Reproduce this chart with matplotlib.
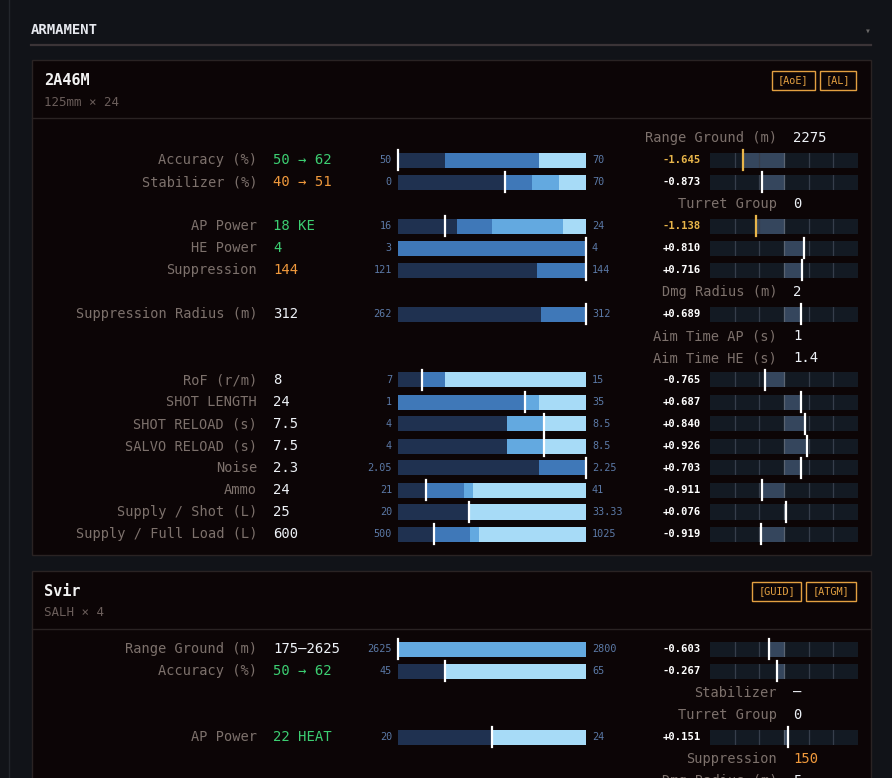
import matplotlib.pyplot as plt
from matplotlib.patches import Rectangle

plt.rcParams['font.family'] = ['DejaVu Sans Mono', 'DejaVu Sans']

W, H = 892, 778

# ---- gun 1: 2A46M ----
gun1_name = "2A46M"
gun1_caption = "125mm × 24"
gun1_tags = ["[AoE]", "[AL]"]

gun1_labels = ["Accuracy (%)", "Stabilizer (%)", "AP Power", "HE Power", "Suppression",
               "Suppression Radius (m)", "RoF (r/m)", "SHOT LENGTH", "SHOT RELOAD (s)",
               "SALVO RELOAD (s)", "Noise", "Ammo", "Supply / Shot (L)", "Supply / Full Load (L)"]
gun1_text = ["50 → 62", "40 → 51", "18 KE", "4", "144", "312", "8", "24", "7.5", "7.5",
             "2.3", "24", "25", "600"]
gun1_tone = ["good", "warn", "good", "good", "warn", "plain", "plain", "plain", "plain",
             "plain", "plain", "plain", "plain", "plain"]
gun1_slot = [1, 2, 4, 5, 6, 8, 11, 12, 13, 14, 15, 16, 17, 18]
gun1_lo = [50, 0, 16, 3, 121, 262, 7, 1, 4, 4, 2.05, 21, 20, 500]
gun1_hi = [70, 70, 24, 4, 144, 312, 15, 35, 8.5, 8.5, 2.25, 41, 33.33, 1025]
gun1_stops = [[55, 65, 70], [40, 50, 60, 70], [18.5, 20, 23, 24], [4], [138, 144], [300, 312],
              [8, 9, 15], [24, 26.5, 35], [6.6, 7.5, 8.5], [6.6, 7.5, 8.5], [2.2, 2.25],
              [24, 28, 29, 41], [25, 33.33], [600, 700, 725, 1025]]
gun1_tiers = [[0, 1, 3], [0, 1, 2, 3], [0, 1, 2, 3], [1], [0, 1], [0, 1],
              [0, 1, 3], [1, 2, 3], [0, 2, 3], [0, 2, 3], [0, 1],
              [0, 1, 2, 3], [0, 3], [0, 1, 2, 3]]
gun1_mark = [50, 40, 18, 4, 144, 312, 8, 24, 7.5, 7.5, 2.25, 24, 25, 600]

gun1_info_slot = [0, 3, 7, 9, 10]
gun1_info_labels = ["Range Ground (m)", "Turret Group", "Dmg Radius (m)", "Aim Time AP (s)", "Aim Time HE (s)"]
gun1_info_text = ["2275", "0", "2", "1", "1.4"]
gun1_info_tone = ["plain", "plain", "plain", "plain", "plain"]
gun1_z_slot = [1, 2, 4, 5, 6, 8, 11, 12, 13, 14, 15, 16, 17, 18]
gun1_z = [-1.645, -0.873, -1.138, 0.810, 0.716, 0.689, -0.765, 0.687, 0.840, 0.926,
          0.703, -0.911, 0.076, -0.919]

# ---- gun 2: Svir ----
gun2_name = "Svir"
gun2_caption = "SALH × 4"
gun2_tags = ["[GUID]", "[ATGM]"]

gun2_labels = ["Range Ground (m)", "Accuracy (%)", "AP Power"]
gun2_text = ["175–2625", "50 → 62", "22 HEAT"]
gun2_tone = ["plain", "good", "good"]
gun2_slot = [0, 1, 4]
gun2_lo = [2625, 45, 20]
gun2_hi = [2800, 65, 24]
gun2_stops = [[2800], [50, 65], [22, 24]]
gun2_tiers = [[2], [0, 3], [0, 3]]
gun2_mark = [2625, 50, 22]

gun2_info_slot = [2, 3, 5, 6]
gun2_info_labels = ["Stabilizer", "Turret Group", "Suppression", "Dmg Radius (m)"]
gun2_info_text = ["—", "0", "150", "5"]
gun2_info_tone = ["plain", "plain", "warn", "plain"]
gun2_z_slot = [0, 1, 4]
gun2_z = [-0.603, -0.267, 0.151]

# colours
PAGE = "#111318"
CARD = "#0c0506"
EDGE = "#2a2323"
LABEL = "#7d716c"
TONES = {"plain": "#eef2f7", "good": "#3ccf72", "warn": "#f0993c"}
ALERT = "#e8b54a"
TAG = "#e3a041"
TIER = ["#1f3150", "#3f78b8", "#63a9e0", "#a7dbf7"]
SCALE = "#5b79a6"
ZBG, ZDIV, ZMID, ZFILL = "#131a23", "#363e4b", "#5a6472", "#35465d"

fig = plt.figure(figsize=(W / 100, H / 100), dpi=100)
fig.patch.set_facecolor(PAGE)
ax = fig.add_axes([0, 0, 1, 1])
ax.set_xlim(0, W)
ax.set_ylim(H, 0)
ax.axis('off')

ax.plot([8.5, 8.5], [0, H], color="#23262c", lw=1)
ax.text(31, 30, "ARMAMENT", fontsize=10, weight='bold', color="#e6e8ee", va='center')
ax.text(871, 31, "▾", fontsize=7, color="#6a6868", ha='right', va='center')
ax.plot([31, 871], [44.5, 44.5], color="#3b3437", lw=1.6)


def stat_bar(yc, lo, hi, stops, tiers, mark):
    b = fig.add_axes([398 / W, 1 - (yc + 7.5) / H, 188 / W, 15 / H])
    b.set_xlim(lo, hi)
    b.set_ylim(-0.5, 0.5)
    b.axis('off')
    left = lo
    for s, t in zip(stops, tiers):
        b.barh(0, s - left, left=left, height=1, color=TIER[t], lw=0)
        left = s
    b.axvline(mark, ymin=-0.17, ymax=1.17, color="white", lw=1.6, clip_on=False)
    ax.text(392, yc, f"{lo:g}", ha='right', va='center', fontsize=7.3, color=SCALE)
    ax.text(592, yc, f"{hi:g}", ha='left', va='center', fontsize=7.3, color=SCALE)


def z_bar(yc, z):
    b = fig.add_axes([710 / W, 1 - (yc + 7.5) / H, 148 / W, 15 / H])
    b.set_xlim(-3, 3)
    b.set_ylim(-0.5, 0.5)
    b.axis('off')
    b.barh(0, 6, left=-3, height=1, color=ZBG, lw=0)
    b.barh(0, z, left=0, height=1, color=ZFILL, lw=0)
    for d in (-2, -1, 1, 2):
        b.axvline(d, color=ZDIV, lw=0.9)
    b.axvline(0, color=ZMID, lw=0.9)
    col = ALERT if abs(z) > 1 else "white"
    b.axvline(z, ymin=-0.17, ymax=1.17, color=col, lw=1.6, clip_on=False)
    ax.text(701, yc, f"{z:+.3f}", ha='right', va='center', fontsize=7.6,
            weight='bold', color=col)


def card(top, bottom, name, caption, tags, row0,
         labels, text, tone, slot, lo, hi, stops, tiers, mark,
         info_slot, info_labels, info_text, info_tone, z_slot, zs):
    ax.add_patch(Rectangle((32, top), 839, bottom - top, fc=CARD, ec=EDGE, lw=1))
    ax.plot([32, 871], [top + 58, top + 58], color=EDGE, lw=1)
    ax.text(44, top + 20.5, name, fontsize=11, weight='bold', color="#f2f2f2", va='center')
    ax.text(44, top + 42, caption, fontsize=9, color="#6b5e5b", va='center')
    right = 856
    for t in reversed(tags):
        w = 6.6 * len(t) + 10
        ax.add_patch(Rectangle((right - w, top + 11), w, 18.5, fc='none', ec=TAG, lw=1))
        ax.text(right - w / 2, top + 20.5, t, fontsize=7.4, color=TAG, ha='center', va='center')
        right -= w + 5
    for i in range(len(labels)):
        yc = row0 + 22 * slot[i]
        ax.text(257, yc, labels[i], ha='right', va='center', fontsize=9.8, color=LABEL)
        ax.text(273, yc, text[i], ha='left', va='center', fontsize=10, color=TONES[tone[i]])
        stat_bar(yc, lo[i], hi[i], stops[i], tiers[i], mark[i])
    for i in range(len(info_labels)):
        yc = row0 + 22 * info_slot[i]
        ax.text(777, yc, info_labels[i], ha='right', va='center', fontsize=9.8, color=LABEL)
        ax.text(793, yc, info_text[i], ha='left', va='center', fontsize=10,
                color=TONES[info_tone[i]])
    for i in range(len(zs)):
        z_bar(row0 + 22 * z_slot[i], zs[i])


card(60, 555, gun1_name, gun1_caption, gun1_tags, 138,
     gun1_labels, gun1_text, gun1_tone, gun1_slot, gun1_lo, gun1_hi, gun1_stops,
     gun1_tiers, gun1_mark, gun1_info_slot, gun1_info_labels, gun1_info_text,
     gun1_info_tone, gun1_z_slot, gun1_z)

card(571, 900, gun2_name, gun2_caption, gun2_tags, 649,
     gun2_labels, gun2_text, gun2_tone, gun2_slot, gun2_lo, gun2_hi, gun2_stops,
     gun2_tiers, gun2_mark, gun2_info_slot, gun2_info_labels, gun2_info_text,
     gun2_info_tone, gun2_z_slot, gun2_z)

fig.savefig("out.png", dpi=100, facecolor=PAGE)
